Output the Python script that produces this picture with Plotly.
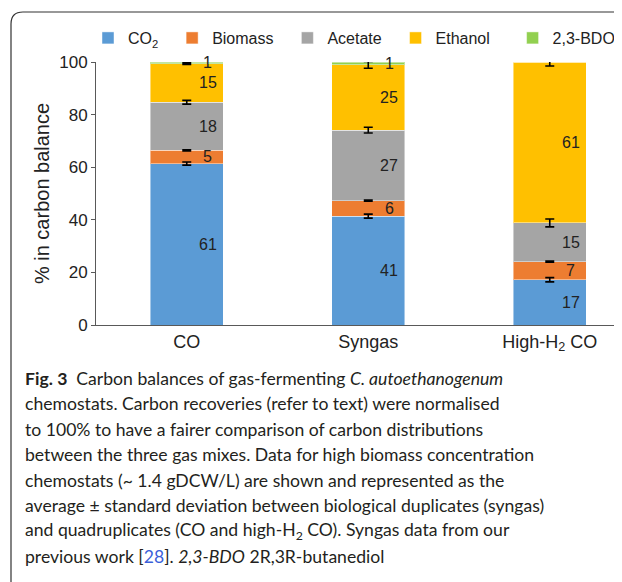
import numpy as np
import plotly.graph_objects as go

# ---- data ----
categories = ["CO", "Syngas", "High-H<sub>2</sub> CO"]
series_names = ["CO<sub>2</sub>", "Biomass", "Acetate", "Ethanol", "2,3-BDO"]
co2 = [61.4, 41.4, 17.2]
biomass = [5.0, 5.9, 6.9]
acetate = [18.3, 26.8, 14.7]
ethanol = [14.7, 24.8, 61.2]
bdo = [0.6, 1.1, 0.0]
sd_co2 = [0.6, 0.75, 0.8]
sd_biomass = [0.2, 0.2, 0.2]
sd_acetate = [0.7, 1.1, 1.5]
sd_ethanol = [0.3, 1.3, 1.5]
y_ticks = [0, 20, 40, 60, 80, 100]

colors = ["#5B9BD5", "#ED7D31", "#A5A5A5", "#FFC000", "#92D050"]
legend_pad = [2, 2, 2, 4, 0]
series = [co2, biomass, acetate, ethanol, bdo]
sds = [sd_co2, sd_biomass, sd_acetate, sd_ethanol, None]

# page has an 8px body margin
OFF = 8
W, H = 622 - OFF, 582 - OFF
L, R, T, B = 96 - OFF, 0, 62 - OFF, H - (325 - OFF)
PW, PH = W - L - R, H - T - B

def px(x):
    return (x - OFF - L) / PW

def py(y):
    return (H - B - (y - OFF)) / PH

FONT = "Liberation Sans, Arial, sans-serif"
TXT = "#222222"
fig = go.Figure()

for name, vals, col, pad in zip(series_names, series, colors, legend_pad):
    fig.add_trace(go.Bar(
        x=categories, y=vals, name=name + "\u00a0" * pad,
        marker=dict(color=col, line=dict(color="rgba(255,255,255,0.45)", width=1)),
        hoverinfo="skip",
    ))

# error bars at cumulative tops
cum = np.cumsum(np.array(series, dtype=float), axis=0)
for i, sd in enumerate(sds):
    if sd is None:
        continue
    fig.add_trace(go.Scatter(
        x=categories, y=cum[i], mode="markers",
        marker=dict(size=1, opacity=0),
        error_y=dict(type="data", array=sd, color="black", thickness=1.6, width=4.5),
        showlegend=False, hoverinfo="skip",
    ))

# value labels
annotations = []
for i, vals in enumerate(series):
    base = cum[i] - np.array(vals)
    for j, v in enumerate(vals):
        if v <= 0:
            continue
        annotations.append(dict(
            x=categories[j], y=base[j] + v / 2, xref="x", yref="y",
            text=f"{v:.0f}", showarrow=False, xshift=21,
            font=dict(family=FONT, size=16, color=TXT),
        ))

caption = [
    "<b>Fig. 3</b>  Carbon balances of gas-fermenting <i>C. autoethanogenum</i>",
    "chemostats. Carbon recoveries (refer to text) were normalised",
    "to 100% to have a fairer comparison of carbon distributions",
    "between the three gas mixes. Data for high biomass concentration",
    "chemostats (~ 1.4 gDCW/L) are shown and represented as the",
    "average ± standard deviation between biological duplicates (syngas)",
    "and quadruplicates (CO and high-H<sub>2</sub> CO). Syngas data from our",
    "previous work [<span style='color:#3b5fd9'>28</span>]. <i>2,3-BDO</i> 2R,3R-butanediol",
]
for k, line in enumerate(caption):
    annotations.append(dict(
        x=px(23), y=py(378 + 25.5 * k), xref="paper", yref="paper",
        xanchor="left", yanchor="middle", text=line, showarrow=False,
        font=dict(family="Lato, Noto Sans, sans-serif", size=17.6, color="#231f20"),
    ))

shapes = [dict(
    type="path", xref="paper", yref="paper",
    path=f"M {px(11)},{py(590)} L {px(11)},{py(24)} Q {px(11)},{py(12)} {px(23)},{py(12)} L {px(630)},{py(12)}",
    line=dict(color="#333333", width=1.2),
)]

fig.update_layout(
    width=W, height=H,
    margin=dict(l=L, r=R, t=T, b=B),
    paper_bgcolor="white", plot_bgcolor="white",
    barmode="stack", bargap=0.6,
    font=dict(family=FONT, size=16, color=TXT),
    legend=dict(orientation="h", x=px(88), xanchor="left", y=py(38), yanchor="middle",
                font=dict(family=FONT, size=16, color=TXT), traceorder="normal"),
    annotations=annotations,
    shapes=shapes,
    xaxis=dict(range=[-0.5, 2.398], showline=True, linecolor="#595959", linewidth=1,
               ticks="", tickfont=dict(family=FONT, size=18, color=TXT),
               fixedrange=True),
    yaxis=dict(range=[0, 100], tickvals=y_ticks, showline=True, linecolor="#595959",
               linewidth=1, ticks="outside", ticklen=4, tickcolor="#595959",
               showgrid=False, zeroline=False,
               tickfont=dict(family=FONT, size=17, color=TXT),
               title=dict(text="% in carbon balance", font=dict(family=FONT, size=20, color=TXT),
                          standoff=4)),
)

fig.write_html("out.html")
